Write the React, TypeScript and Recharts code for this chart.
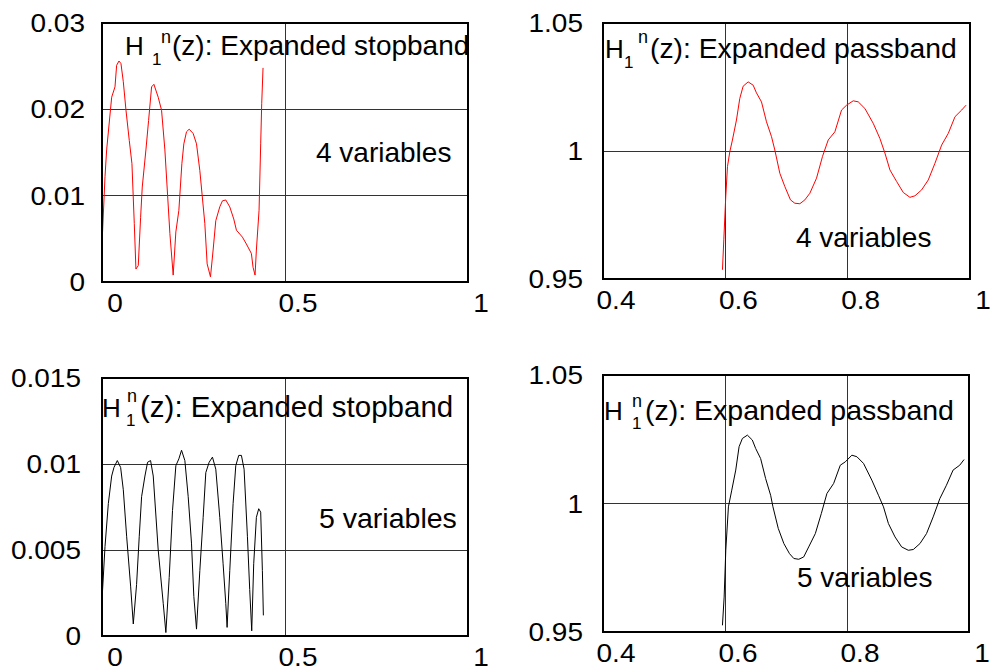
import { Line, LineChart, ReferenceLine, XAxis, YAxis } from "recharts";

const FONT = "Arial, 'Liberation Sans', sans-serif";

// H1n(z), expanded stopband, 4 variables
const sb4Freq = [
  0, 0.0082, 0.0127, 0.0264, 0.0355, 0.04, 0.0464, 0.0518, 0.0582, 0.0655, 0.0745, 0.0818, 0.0882, 0.0927,
  0.0991, 0.1055, 0.11, 0.12, 0.1273, 0.1355, 0.1418, 0.1536, 0.1627, 0.1718, 0.1855, 0.1945, 0.2018, 0.21,
  0.2182, 0.2236, 0.2309, 0.2382, 0.2491, 0.2582, 0.2673, 0.2809, 0.2873, 0.2964, 0.3036, 0.3109, 0.3218,
  0.3291, 0.3382, 0.3491, 0.36, 0.3673, 0.3836, 0.3945, 0.4082, 0.4127, 0.4182, 0.4218, 0.4291, 0.4336,
  0.4364, 0.44,
];
const sb4Mag = [
  0.0044, 0.0122, 0.0153, 0.0214, 0.0226, 0.0251, 0.0256, 0.0253, 0.0232, 0.0199, 0.0164, 0.0137, 0.0068,
  0.0015, 0.0019, 0.0075, 0.011, 0.0153, 0.0187, 0.0226, 0.0229, 0.0214, 0.0199, 0.0153, 0.0056, 0.0008,
  0.0058, 0.0083, 0.0137, 0.016, 0.0174, 0.0177, 0.0172, 0.016, 0.0129, 0.0068, 0.0021, 0.0006, 0.0037,
  0.0071, 0.0087, 0.0094, 0.0095, 0.0087, 0.0073, 0.006, 0.0052, 0.0044, 0.0033, 0.0017, 0.0008, 0.0037,
  0.0083, 0.016, 0.0207, 0.0248,
];

// H1n(z), expanded passband, 4 variables
const pb4Freq = [
  0.5953, 0.5975, 0.6007, 0.6035, 0.6073, 0.6116, 0.6182, 0.6236, 0.6291, 0.6373, 0.6455, 0.6509, 0.6591,
  0.6673, 0.6755, 0.6809, 0.6891, 0.6973, 0.7065, 0.7136, 0.7218, 0.73, 0.7382, 0.7491, 0.7589, 0.7682,
  0.7791, 0.79, 0.7982, 0.8091, 0.8173, 0.8282, 0.8418, 0.8527, 0.8609, 0.8691, 0.88, 0.8909, 0.9018, 0.91,
  0.9209, 0.9318, 0.9427, 0.9536, 0.9645, 0.9755, 0.9864, 0.9936,
];
const pb4Mag = [
  0.9536, 0.9653, 0.9822, 0.9939, 0.9997, 1.0043, 1.0121, 1.0205, 1.0253, 1.027, 1.0257, 1.0227, 1.0192,
  1.0114, 1.0056, 1.0004, 0.9913, 0.9861, 0.9809, 0.9796, 0.9794, 0.9809, 0.9835, 0.9894, 0.9979, 1.0043,
  1.0075, 1.016, 1.0179, 1.0196, 1.0192, 1.0166, 1.0108, 1.0049, 0.9992, 0.9926, 0.9881, 0.9838, 0.9819,
  0.9825, 0.9848, 0.9887, 0.9952, 1.0023, 1.0069, 1.0134, 1.016, 1.0179,
];

// H1n(z), expanded stopband, 5 variables
const sb5Freq = [
  0, 0.0082, 0.0173, 0.0264, 0.0327, 0.0418, 0.0509, 0.0582, 0.0673, 0.0782, 0.0855, 0.0945, 0.1018, 0.1082,
  0.1173, 0.1245, 0.1327, 0.14, 0.1536, 0.1673, 0.1745, 0.1836, 0.1927, 0.2018, 0.21, 0.2173, 0.2264, 0.2355,
  0.2445, 0.2509, 0.2582, 0.2673, 0.2764, 0.2836, 0.2927, 0.3018, 0.3109, 0.3218, 0.3309, 0.3382, 0.3418,
  0.3491, 0.3582, 0.3655, 0.3736, 0.3809, 0.3882, 0.3973, 0.4036, 0.4091, 0.4145, 0.4218, 0.4282, 0.4336,
  0.4382, 0.4409,
];
const sb5Mag = [
  0.0021, 0.0052, 0.0077, 0.0093, 0.0098, 0.0102, 0.0098, 0.0085, 0.0058, 0.0029, 0.0007, 0.003, 0.0058,
  0.0081, 0.0093, 0.0101, 0.0102, 0.0093, 0.005, 0.0019, 0.0002, 0.0034, 0.0073, 0.0099, 0.0103, 0.0108,
  0.0102, 0.0081, 0.0054, 0.0023, 0.0004, 0.0038, 0.0069, 0.0095, 0.0101, 0.0104, 0.0097, 0.0069, 0.0042,
  0.0019, 0.0005, 0.0038, 0.0077, 0.0099, 0.0105, 0.0105, 0.0097, 0.0058, 0.0027, 0.0003, 0.0042, 0.0069,
  0.0074, 0.0072, 0.0038, 0.0012,
];

// H1n(z), expanded passband, 5 variables
const pb5Freq = [
  0.5958, 0.5986, 0.6013, 0.6056, 0.6111, 0.6176, 0.6231, 0.6285, 0.6367, 0.6448, 0.6503, 0.6584, 0.6666,
  0.6748, 0.6786, 0.6873, 0.6965, 0.7057, 0.7128, 0.7209, 0.729, 0.7372, 0.7481, 0.7579, 0.7671, 0.7781,
  0.789, 0.7972, 0.808, 0.8162, 0.8271, 0.8407, 0.8516, 0.8598, 0.8679, 0.8787, 0.8896, 0.9005, 0.9087,
  0.9196, 0.9304, 0.9413, 0.9522, 0.963, 0.9739, 0.9848, 0.9919,
];
const pb5Mag = [
  0.9526, 0.9636, 0.9818, 0.9987, 1.0052, 1.013, 1.0221, 1.0253, 1.0266, 1.0247, 1.0214, 1.0175, 1.0097,
  1.0032, 0.9987, 0.9903, 0.9844, 0.9805, 0.9786, 0.9783, 0.9792, 0.9831, 0.9883, 0.9961, 1.0039, 1.0078,
  1.0149, 1.0162, 1.0188, 1.0182, 1.0156, 1.0091, 1.0032, 0.9987, 0.9922, 0.987, 0.9831, 0.9818, 0.9821,
  0.9844, 0.9883, 0.9948, 1.0019, 1.0071, 1.013, 1.0149, 1.0171,
];

const stopXTicks = [0, 0.5, 1];
const passXTicks = [0.4, 0.6, 0.8, 1];
const sb4YTicks = [0, 0.01, 0.02, 0.03];
const sb5YTicks = [0, 0.005, 0.01, 0.015];
const passYTicks = [0.95, 1, 1.05];

interface Rect {
  left: number;
  top: number;
  width: number;
  height: number;
}

interface PanelProps {
  box: Rect;
  plot: { left: number; right: number; top: number; bottom: number };
  xs: number[];
  ys: number[];
  xTicks: number[];
  yTicks: number[];
  xGrid: number[];
  yGrid: number[];
  color: string;
  yGap: number;
}

const Y_AXIS_W = 60;
const X_AXIS_H = 40;

function Panel({ box, plot, xs, ys, xTicks, yTicks, xGrid, yGrid, color, yGap }: PanelProps) {
  const data = xs.map((x, i) => ({ x, y: ys[i] }));
  const margin = {
    top: plot.top - box.top,
    left: plot.left - box.left - Y_AXIS_W,
    right: box.left + box.width - plot.right,
    bottom: box.top + box.height - plot.bottom - X_AXIS_H,
  };
  const bottomLocal = plot.bottom - box.top;
  const leftLocal = plot.left - box.left;
  const xMin = xTicks[0];
  const xMax = xTicks[xTicks.length - 1];
  const yMin = yTicks[0];
  const yMax = yTicks[yTicks.length - 1];

  const xTick = (p: any) => (
    <g transform={`translate(${p.x + 13},${bottomLocal + 30}) scale(1.12,1)`}>
      <text textAnchor="middle" fontSize={25} fontFamily={FONT} fill="#000">
        {String(p.payload.value)}
      </text>
    </g>
  );
  const yTick = (p: any) => (
    <g transform={`translate(${leftLocal - yGap},${p.y + 9}) scale(1.12,1)`}>
      <text textAnchor="end" fontSize={25} fontFamily={FONT} fill="#000">
        {String(p.payload.value)}
      </text>
    </g>
  );

  return (
    <div style={{ position: "absolute", left: box.left, top: box.top }}>
      <LineChart width={box.width} height={box.height} data={data} margin={margin}>
        <XAxis
          type="number"
          dataKey="x"
          domain={[xMin, xMax]}
          ticks={xTicks}
          interval={0}
          allowDataOverflow
          axisLine={false}
          tickLine={false}
          tickSize={0}
          tickMargin={0}
          height={X_AXIS_H}
          tick={xTick}
        />
        <YAxis
          type="number"
          dataKey="y"
          domain={[yMin, yMax]}
          ticks={yTicks}
          interval={0}
          allowDataOverflow
          axisLine={false}
          tickLine={false}
          tickSize={0}
          tickMargin={0}
          width={Y_AXIS_W}
          tick={yTick}
        />
        {xGrid.map((v) => (
          <ReferenceLine key={`x${v}`} x={v} stroke="#333" strokeWidth={1} shapeRendering="crispEdges" />
        ))}
        {yGrid.map((v) => (
          <ReferenceLine key={`y${v}`} y={v} stroke="#333" strokeWidth={1} shapeRendering="crispEdges" />
        ))}
        <Line
          type="linear"
          dataKey="y"
          stroke={color}
          strokeWidth={1}
          dot={false}
          isAnimationActive={false}
        />
      </LineChart>
      {/* plot frame */}
      <div
        style={{
          position: "absolute",
          left: plot.left - box.left - 1,
          top: plot.top - box.top - 1,
          width: plot.right - plot.left + 2,
          height: plot.bottom - plot.top + 2,
          border: "2px solid #000",
          boxSizing: "border-box",
          pointerEvents: "none",
        }}
      />
    </div>
  );
}

function Title({ x, y, sub, sup, rest, restX, size }: any) {
  return (
    <g fontFamily={FONT} fill="#000">
      <text x={x} y={y} fontSize={26}>H</text>
      <text x={sub[0]} y={sub[1]} fontSize={17}>1</text>
      <text x={sup[0]} y={sup[1]} fontSize={18}>n</text>
      <text x={restX} y={y} fontSize={size}>{rest}</text>
    </g>
  );
}

export default function App() {
  return (
    <div
      style={{
        position: "absolute",
        left: 0,
        top: 0,
        width: 991,
        height: 672,
        background: "#fff",
        fontFamily: FONT,
      }}
    >
      <Panel
        box={{ left: 0, top: 0, width: 495, height: 340 }}
        plot={{ left: 102, right: 468, top: 23, bottom: 282 }}
        xs={sb4Freq}
        ys={sb4Mag}
        xTicks={stopXTicks}
        yTicks={sb4YTicks}
        xGrid={[0.5]}
        yGrid={[0.01, 0.02]}
        color="#ff0000"
        yGap={17}
      />
      <Panel
        box={{ left: 495, top: 0, width: 496, height: 340 }}
        plot={{ left: 603, right: 970, top: 23, bottom: 279 }}
        xs={pb4Freq}
        ys={pb4Mag}
        xTicks={passXTicks}
        yTicks={passYTicks}
        xGrid={[0.6, 0.8]}
        yGrid={[1]}
        color="#ff0000"
        yGap={20}
      />
      <Panel
        box={{ left: 0, top: 350, width: 495, height: 322 }}
        plot={{ left: 102, right: 468, top: 378, bottom: 636 }}
        xs={sb5Freq}
        ys={sb5Mag}
        xTicks={stopXTicks}
        yTicks={sb5YTicks}
        xGrid={[0.5]}
        yGrid={[0.005, 0.01]}
        color="#000000"
        yGap={21}
      />
      <Panel
        box={{ left: 495, top: 350, width: 496, height: 322 }}
        plot={{ left: 603, right: 969, top: 375, bottom: 632 }}
        xs={pb5Freq}
        ys={pb5Mag}
        xTicks={passXTicks}
        yTicks={passYTicks}
        xGrid={[0.6, 0.8]}
        yGrid={[1]}
        color="#000000"
        yGap={20}
      />
      <svg
        width={991}
        height={672}
        style={{ position: "absolute", left: 0, top: 0, pointerEvents: "none" }}
      >
        <Title x={125} y={55} sub={[152, 65]} sup={[161, 43]} restX={172} rest="(z): Expanded stopband" size={28} />
        <Title x={605} y={58} sub={[624, 68]} sup={[638, 43]} restX={650} rest="(z): Expanded passband" size={28.3} />
        <Title x={102} y={417} sub={[126, 426]} sup={[127, 402]} restX={140} rest="(z): Expanded stopband" size={29.5} />
        <Title x={604} y={420} sub={[632, 429]} sup={[632, 407]} restX={645} rest="(z): Expanded passband" size={28.5} />
        <g fontFamily={FONT} fill="#000" fontSize={28}>
          <text x={316} y={162}>4 variables</text>
          <text x={796} y={247}>4 variables</text>
          <text x={319} y={528} fontSize={28.5}>5 variables</text>
          <text x={797} y={587}>5 variables</text>
        </g>
      </svg>
    </div>
  );
}
